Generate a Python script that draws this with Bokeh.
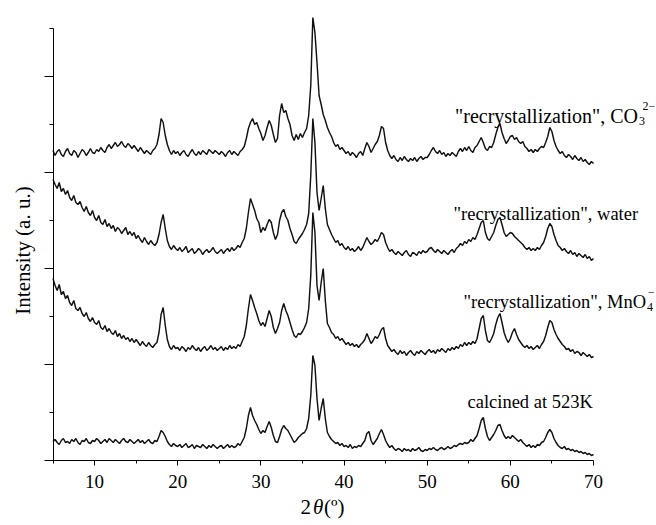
import numpy as np
from bokeh.plotting import figure
from bokeh.models import Range1d, FixedTicker, ColumnDataSource
from bokeh.core.properties import value
from bokeh.embed import file_html
from bokeh.resources import INLINE

# 2-theta scan grid (degrees), step 0.25
two_theta = np.arange(5, 70.001, 0.25)

# Intensities (a.u.), already stacked as drawn
co3 = [
    310, 305, 309, 311, 306, 304, 309, 312, 307, 305, 310, 308, 303, 307, 311, 309, 305, 308, 312, 308,
    307, 311, 309, 313, 310, 308, 313, 316, 312, 315, 318, 314, 316, 319, 315, 313, 317, 315, 312, 315,
    312, 309, 313, 310, 307, 310, 308, 306, 310, 312, 316, 326, 342, 338, 325, 316, 310, 306, 310, 307,
    309, 305, 308, 310, 306, 304, 308, 311, 307, 305, 309, 306, 310, 308, 306, 311, 309, 307, 310, 308,
    306, 309, 307, 304, 308, 310, 306, 309, 307, 305, 309, 311, 314, 322, 332, 338, 342, 336, 338, 332,
    327, 320, 325, 333, 340, 335, 326, 318, 322, 345, 357, 348, 350, 342, 336, 325, 320, 326, 321, 327,
    323, 328, 332, 345, 375, 443, 428, 398, 365, 356, 346, 340, 333, 328, 324, 318, 314, 316, 311, 313,
    310, 307, 309, 305, 308, 306, 303, 307, 309, 305, 312, 318, 314, 308, 312, 316, 319, 325, 334, 332,
    318, 310, 305, 302, 305, 301, 299, 303, 300, 304, 301, 299, 302, 300, 303, 299, 302, 304, 301, 303,
    303, 306, 310, 313, 309, 307, 310, 306, 308, 304, 307, 305, 308, 306, 304, 309, 312, 309, 313, 310,
    314, 310, 308, 313, 315, 319, 323, 318, 312, 310, 314, 313, 318, 326, 333, 337, 328, 322, 317, 320,
    324, 325, 321, 323, 319, 317, 319, 314, 312, 309, 311, 308, 311, 309, 312, 314, 313, 318, 324, 333,
    329, 320, 314, 310, 307, 309, 305, 303, 306, 304, 301, 305, 302, 300, 303, 299, 301, 298, 296, 299,
    297,
]

water = [
    281, 276, 272, 278, 269, 272, 266, 270, 263, 260, 265, 258, 256, 259, 253, 249, 254, 248, 245, 250,
    243, 240, 245, 238, 236, 241, 234, 237, 232, 235, 229, 233, 231, 227, 230, 233, 226, 229, 225, 228,
    222, 225, 221, 218, 223, 219, 216, 220, 217, 215, 218, 226, 238, 246, 232, 220, 214, 211, 215, 212,
    210, 213, 209, 211, 214, 208, 210, 212, 207, 209, 212, 210, 206, 209, 211, 208, 210, 213, 209, 207,
    209, 211, 207, 210, 212, 209, 213, 210, 212, 215, 213, 218, 222, 232, 248, 262, 256, 250, 242, 238,
    228, 233, 230, 236, 241, 238, 228, 221, 226, 240, 248, 251, 244, 240, 232, 226, 219, 217, 221, 224,
    227, 231, 236, 247, 285, 342, 318, 268, 250, 262, 275, 252, 236, 231, 226, 222, 218, 220, 215, 217,
    213, 211, 214, 210, 212, 209, 211, 214, 210, 213, 218, 223, 219, 216, 218, 221, 219, 223, 228, 226,
    218, 213, 209, 211, 208, 206, 209, 207, 205, 208, 210, 206, 204, 208, 207, 205, 209, 207, 210, 208,
    209, 212, 213, 210, 208, 211, 209, 207, 210, 208, 206, 209, 211, 208, 212, 214, 217, 215, 219, 217,
    221, 219, 223, 221, 226, 232, 238, 240, 228, 222, 220, 224, 228, 235, 241, 243, 236, 228, 224, 226,
    228, 227, 224, 222, 220, 218, 216, 213, 211, 213, 210, 212, 210, 213, 211, 215, 218, 224, 232, 237,
    234, 226, 220, 215, 213, 210, 212, 209, 207, 210, 206, 208, 204, 207, 205, 203, 206, 202, 204, 200,
    202,
]

mno4 = [
    182, 175, 170, 176, 166, 169, 162, 165, 158, 155, 160, 152, 150, 153, 147, 144, 148, 142, 139, 143,
    138, 136, 140, 133, 131, 135, 129, 132, 128, 126, 130, 124, 127, 122, 125, 121, 123, 119, 122, 118,
    121, 118, 115, 119, 116, 114, 118, 115, 113, 116, 118, 128, 146, 153, 135, 121, 114, 111, 115, 112,
    113, 110, 114, 112, 109, 113, 111, 115, 112, 110, 113, 109, 112, 114, 110, 112, 115, 111, 113, 110,
    112, 114, 110, 113, 111, 115, 112, 114, 112, 116, 114, 119, 124, 135, 152, 166, 160, 153, 147, 140,
    135, 138, 134, 142, 150, 144, 133, 127, 132, 138, 150, 157, 150, 145, 138, 131, 125, 123, 127, 126,
    129, 133, 138, 152, 185, 248, 228, 175, 160, 178, 192, 160, 137, 133, 128, 126, 122, 124, 120, 122,
    119, 116, 118, 115, 117, 114, 116, 113, 116, 118, 121, 127, 122, 117, 120, 124, 122, 126, 131, 133,
    122, 115, 112, 109, 111, 108, 106, 110, 107, 109, 105, 108, 110, 107, 105, 109, 107, 110, 108, 106,
    109, 111, 108, 110, 107, 111, 109, 112, 110, 108, 112, 110, 113, 111, 114, 112, 116, 114, 118, 115,
    118, 116, 119, 117, 122, 132, 142, 145, 130, 120, 118, 122, 127, 136, 143, 147, 138, 128, 122, 118,
    122, 128, 132, 126, 121, 118, 115, 113, 115, 112, 114, 111, 113, 115, 112, 116, 119, 125, 133, 140,
    138, 131, 126, 122, 119, 116, 114, 111, 112, 109, 111, 107, 109, 108, 105, 108, 106, 104, 106, 103,
    104,
]

calcined = [
    19, 21, 18, 16, 20, 22, 18, 19, 17, 21, 19, 22, 18, 16, 20, 19, 22, 18, 17, 20,
    19, 22, 20, 17, 19, 21, 18, 22, 20, 18, 21, 19, 17, 20, 22, 19, 18, 21, 19, 17,
    19, 21, 18, 20, 17, 19, 21, 18, 17, 20, 19, 24, 30, 28, 24, 19, 16, 14, 17, 15,
    14, 16, 13, 15, 17, 13, 14, 16, 12, 15, 14, 13, 16, 14, 12, 15, 13, 16, 14, 12,
    14, 15, 12, 14, 16, 13, 15, 13, 14, 17, 15, 19, 23, 32, 45, 53, 45, 40, 36, 31,
    27, 30, 28, 34, 39, 33, 25, 19, 18, 24, 31, 35, 32, 30, 26, 22, 18, 20, 23, 25,
    27, 28, 32, 42, 65, 105, 95, 62, 40, 52, 62, 42, 28, 24, 21, 19, 17, 18, 15, 17,
    14, 15, 13, 16, 12, 14, 13, 15, 14, 17, 20, 27, 29, 20, 16, 19, 22, 27, 31, 26,
    20, 16, 13, 15, 12, 10, 12, 11, 9, 12, 10, 11, 9, 12, 10, 11, 13, 10, 9, 11,
    10, 12, 11, 13, 11, 10, 12, 13, 11, 12, 14, 12, 13, 15, 14, 16, 17, 16, 18, 17,
    18, 21, 19, 22, 25, 32, 40, 43, 32, 24, 20, 23, 26, 30, 35, 36, 30, 25, 22, 24,
    22, 25, 23, 21, 19, 21, 18, 16, 14, 16, 13, 15, 13, 16, 15, 18, 19, 23, 28, 31,
    28, 22, 18, 15, 13, 12, 14, 11, 12, 10, 11, 9, 10, 8, 9, 7, 8, 6, 7, 5,
    6,
]

series = [co3, water, mno4, calcined]

x_major = [10, 20, 30, 40, 50, 60, 70]
x_minor = [5, 15, 25, 35, 45, 55, 65]
y_major = [0, 96, 192, 288, 384]
y_minor = [48, 144, 240, 336, 432]

label_main = ['"recrystallization", CO', '"recrystallization", water',
              '"recrystallization", MnO', 'calcined at 523K']
label_sub = ['3', '', '4', '']
label_sup = ['2\u2212', '', '\u2212', '']
x_title = ["2", "\u03b8", "(\u00ba)"]
y_title = "Intensity (a. u.)"

FONT = "Liberation Serif"
PX_PER_DEG = 8.315
X0_PX = 52.5      # pixel column of 2theta = 5
Y0_PX = 460       # pixel row of intensity 0


def px_to_x(px):
    return 5 + (px - X0_PX) / PX_PER_DEG


def py_to_y(py):
    return Y0_PX - py


# the plot frame fills the whole canvas; axes are pinned at fixed data locations
p = figure(width=656, height=525, output_backend="svg", toolbar_location=None,
           x_range=Range1d(px_to_x(0), px_to_x(656)), y_range=Range1d(py_to_y(525), py_to_y(0)),
           min_border_left=0, min_border_right=0, min_border_top=0, min_border_bottom=0)
p.outline_line_color = None
p.xgrid.visible = False
p.ygrid.visible = False
p.background_fill_color = "white"
p.border_fill_color = "white"

for s in series:
    p.line(two_theta, s, line_color="#111111", line_width=1.45)

# axes
xa = p.xaxis[0]
xa.fixed_location = 0
xa.ticker = FixedTicker(ticks=x_major, minor_ticks=x_minor)
xa.bounds = (5, 70)
xa.major_tick_out = 5
xa.major_tick_in = 0
xa.minor_tick_out = 3
xa.minor_tick_in = 0
xa.axis_line_color = "black"
xa.major_tick_line_color = "black"
xa.minor_tick_line_color = "black"
xa.major_label_text_font = FONT
xa.major_label_text_font_size = "19px"
xa.major_label_text_color = "black"
xa.major_label_standoff = 9

ya = p.yaxis[0]
ya.fixed_location = 5
ya.ticker = FixedTicker(ticks=y_major, minor_ticks=y_minor)
ya.bounds = (0, 432)
ya.major_tick_out = 9
ya.major_tick_in = 0
ya.minor_tick_out = 4
ya.minor_tick_in = 0
ya.axis_line_color = "black"
ya.major_tick_line_color = "black"
ya.minor_tick_line_color = "black"
ya.major_label_overrides = {t: "" for t in y_major}
ya.major_label_text_font_size = "1px"

# curve labels
left_src = ColumnDataSource(dict(x=[px_to_x(453), px_to_x(467)], y=[py_to_y(213), py_to_y(401)],
                                 t=[label_main[1], label_main[3]]))
p.text(x="x", y="y", text="t", source=left_src, text_font=value(FONT),
       text_font_size="18.5px", text_align="left", text_baseline="alphabetic",
       text_color="black")

p.text(x=[px_to_x(637.5)], y=[py_to_y(115)], text=[label_main[0]], text_font=value(FONT),
       text_font_size="20px", text_align="right", text_baseline="alphabetic",
       text_color="black")
p.text(x=[px_to_x(645.6)], y=[py_to_y(301)], text=[label_main[2]], text_font=value(FONT),
       text_font_size="18.5px", text_align="right", text_baseline="alphabetic",
       text_color="black")

sub_src = ColumnDataSource(dict(x=[px_to_x(638.5), px_to_x(646.5)], y=[py_to_y(120), py_to_y(306)],
                                t=[label_sub[0], label_sub[2]]))
p.text(x="x", y="y", text="t", source=sub_src, text_font=value(FONT),
       text_font_size="12px", text_align="left", text_baseline="alphabetic",
       text_color="black")

sup_src = ColumnDataSource(dict(x=[px_to_x(642), px_to_x(647.5)], y=[py_to_y(105), py_to_y(291)],
                                t=[label_sup[0], label_sup[2]]))
p.text(x="x", y="y", text="t", source=sup_src, text_font=value(FONT),
       text_font_size="12px", text_align="left", text_baseline="alphabetic",
       text_color="black")

# axis titles
title_src = ColumnDataSource(dict(x=[px_to_x(300), px_to_x(323.5)], y=[py_to_y(506)] * 2,
                                  t=[x_title[0], x_title[2]]))
p.text(x="x", y="y", text="t", source=title_src, text_font=value(FONT),
       text_font_size="21px", text_align="left", text_baseline="alphabetic", text_color="black")
p.text(x=[px_to_x(312.5)], y=[py_to_y(506)], text=[x_title[1]], text_font=value(FONT),
       text_font_size="21px", text_font_style="italic", text_align="left",
       text_baseline="alphabetic", text_color="black")
p.text(x=[px_to_x(22)], y=[py_to_y(250)], text=[y_title], angle=np.pi / 2, text_font=value(FONT),
       text_font_size="21px", text_align="center", text_baseline="middle", text_color="black")

open("out.html", "w").write(file_html(p, INLINE))
